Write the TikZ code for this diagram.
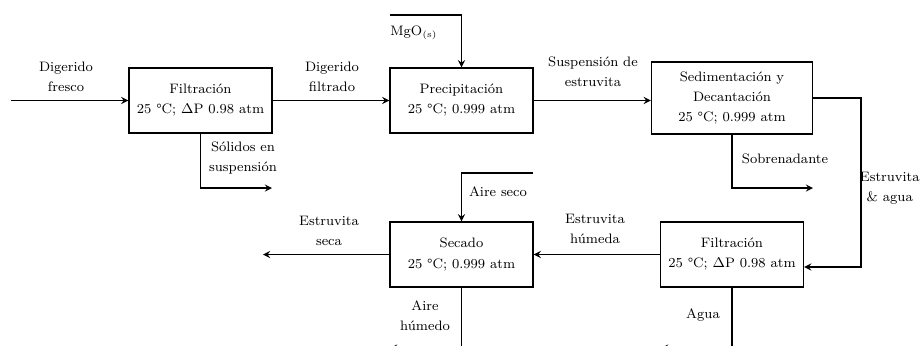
\documentclass[tikz,border=0pt]{standalone}
\usetikzlibrary{arrows,positioning}
\tikzstyle{arrow} = [thick,->,>=stealth]
\tikzstyle{unitop} = [rectangle, minimum width=28.6mm, minimum height=13mm, text centered, align=center, draw, thick]
\tikzstyle{stream} = [align=center, inner sep=0pt]

\begin{document}
\begin{tikzpicture}[x=0.2mm, y=-0.2mm, font=\fontsize{7.8}{11.4}\selectfont]
    \useasboundingbox (0,0) rectangle (922,345);

    % Process units
    \node[unitop] (filt1) at (200.5,100.5) {Filtración\\25 \textdegree C; $\Delta$P 0.98 atm};
    \node[unitop] (precip) at (461.5,100.5) {Precipitación\\25 \textdegree C; 0.999 atm};
    \node[unitop, minimum width=32.2mm, minimum height=14.4mm] (sedim) at (732,98) {Sedimentación y\\Decantación\\25 \textdegree C; 0.999 atm};
    \node[unitop] (filt2) at (732,254.5) {Filtración\\25 \textdegree C; $\Delta$P 0.98 atm};
    \node[unitop] (secado) at (461.5,254.5) {Secado\\25 \textdegree C; 0.999 atm};

    % Free ends
    \coordinate (feed) at (11,100.5);
    \coordinate (solout) at (272,188);
    \coordinate (mgoin) at (390,15);
    \coordinate (sobout) at (813,188);
    \coordinate (sedturn) at (861,98);
    \coordinate (airin) at (533,173);
    \coordinate (secaout) at (263,254.5);
    \coordinate (humout) at (390,348);
    \coordinate (aguaout) at (661,348);

    % Streams
    \draw[arrow] (feed) -- (filt1);
    \draw[arrow] (filt1) -- (precip);
    \draw[arrow] (filt1.south) |- (solout);
    \draw[arrow] (mgoin) -| (precip.north);
    \draw[arrow] (precip) -- (sedim.west |- precip);
    \draw[arrow] (sedim.south) |- (sobout);
    \draw[arrow] (sedim.east) -- (sedturn) |- ([yshift=-2.5mm]filt2.east);
    \draw[arrow] (filt2) -- (secado);
    \draw[arrow] (filt2.south) |- (aguaout);
    \draw[arrow] (airin) -| (secado.north);
    \draw[arrow] (secado) -- (secaout);
    \draw[arrow] (secado.south) |- (humout);

    % Stream labels
    \node[stream] (lfeed) at (66,77) {Digerido\\fresco};
    \node[stream] (lfilt) at (332,77) {Digerido\\filtrado};
    \node[stream] (lsol) at (243,158) {Sólidos en\\suspensión};
    \node[stream, anchor=west] (lmgo) at (390,33) {MgO\textsubscript{\tiny(s)}};
    \node[stream] (lsusp) at (593,72) {Suspensión de\\estruvita};
    \node[stream] (lsob) at (785,159) {Sobrenadante};
    \node[stream, anchor=east] (lestag) at (920,188) {Estruvita\\\& agua};
    \node[stream] (lhum) at (595,229) {Estruvita\\húmeda};
    \node[stream] (laire) at (498,192) {Aire seco};
    \node[stream] (lseca) at (329,231) {Estruvita\\seca};
    \node[stream] (lairh) at (425,316) {Aire\\húmedo};
    \node[stream] (lagua) at (703,315) {Agua};
\end{tikzpicture}
\end{document}
